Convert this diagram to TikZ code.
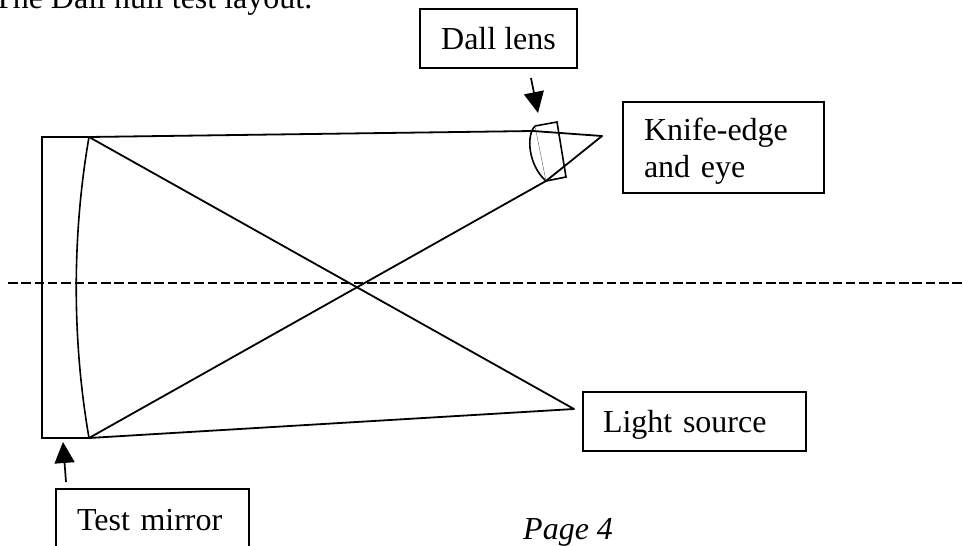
\documentclass[tikz,border=0pt]{standalone}
\usepackage{fontspec}
\setmainfont{Liberation Serif}
\usetikzlibrary{arrows.meta,positioning,calc}

\begin{document}
\begin{tikzpicture}[
    x=1pt, y=-1pt,
    every node/.style={font=\fontsize{32}{37}\selectfont},
    labelbox/.style={rectangle, draw=black, line width=1.6pt, inner sep=0pt, align=left},
    ray/.style={line width=1.8pt, line join=round},
    pointer/.style={line width=1.7pt, -{Triangle[length=21pt,width=20pt]}}
]
    \useasboundingbox (0,0) rectangle (962,546);
    \clip (0,0) rectangle (962,546);

    % Title and page number
    \node[anchor=base west, inner sep=0pt] (title) at (-7,9) {The Dall null test layout.};
    \node[anchor=base west, inner sep=0pt, font=\fontsize{32}{37}\selectfont\itshape] (page) at (523,539) {Page 4};

    % Labels
    \node[labelbox, minimum width=157pt, minimum height=59pt] (lenslabel) at (498.5,38.5) {Dall lens};
    \node[labelbox, minimum width=201pt, minimum height=91pt, text width=159pt, text height=30pt] (knifelabel) at (723.5,147.5) {Knife-edge\\and eye};
    \node[labelbox, minimum width=223pt, minimum height=59pt, text width=183pt, text height=28pt] (sourcelabel) at (694.5,421.5) {Light source};
    \node[labelbox, minimum width=193pt, minimum height=62pt, text width=151pt] (mirrorlabel) at (152.5,520) {Test mirror};

    % Points on the optics
    \coordinate (mirrortop) at (89,137);
    \coordinate (mirrorbot) at (89,438);
    \coordinate (backtop) at (42,137);
    \coordinate (backbot) at (42,438);
    \coordinate (lenstl) at (535,126);
    \coordinate (lenstr) at (557,122);
    \coordinate (lensbr) at (566,177);
    \coordinate (lensbl) at (546,181);
    \coordinate (raytop) at (533,131);
    \coordinate (knife) at (602,136);
    \coordinate (source) at (574,409);
    \coordinate (axisl) at (8,283);
    \coordinate (axisr) at (962,283);

    % Test mirror
    \draw[line width=1.6pt] (mirrortop) -- (backtop) -- (backbot) -- (mirrorbot);
    \draw[line width=1.6pt] (mirrortop) .. controls (72,235) and (72,340) .. (mirrorbot);

    % Dall lens
    \draw[line width=1.6pt] (lenstl) -- (lenstr) -- (lensbr) -- (lensbl);
    \draw[line width=1.6pt] (lenstl) .. controls (526,135) and (528,165) .. (lensbl);
    \draw[gray, line width=0.5pt] (lenstl) -- (lensbl);

    % Rays
    \draw[ray] (mirrortop) -- (raytop) -- (knife) -- (lensbl) -- (mirrorbot);
    \draw[ray] (mirrortop) -- (source) -- (mirrorbot);

    % Optical axis
    \draw[line width=1.5pt, dash pattern=on 9.5pt off 3.8pt] (axisl) -- (axisr);

    % Pointers
    \coordinate (lenstail) at (531,78);
    \coordinate (lenstip) at (538,113);
    \coordinate (mirrortail) at (66,482);
    \coordinate (mirrortip) at (63,442);
    \draw[pointer] (lenstail) -- (lenstip);
    \draw[pointer] (mirrortail) -- (mirrortip);
\end{tikzpicture}
\end{document}
